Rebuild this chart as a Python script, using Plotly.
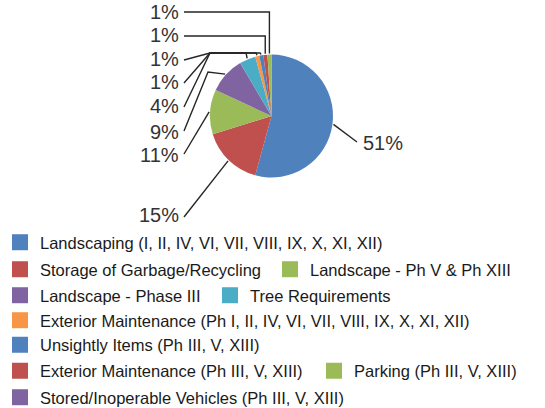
import math
import plotly.graph_objects as go

# ---------------- data ----------------
categories = [
    "Landscaping (I, II, IV, VI, VII, VIII, IX, X, XI, XII)",
    "Storage of Garbage/Recycling",
    "Landscape - Ph V & Ph XIII",
    "Landscape - Phase III",
    "Tree Requirements",
    "Exterior Maintenance (Ph I, II, IV, VI, VII, VIII, IX, X, XI, XII)",
    "Unsightly Items (Ph III, V, XIII)",
    "Exterior Maintenance (Ph III, V, XIII)",
    "Parking (Ph III, V, XIII)",
    "Stored/Inoperable Vehicles (Ph III, V, XIII)",
]
values = [51, 15, 11, 9, 4, 1, 1, 1, 1, 0]
labels_pct = [f"{v}%" for v in values]

# ---------------- styles / layout ----------------
colors = ["#4F81BD", "#C0504D", "#9BBB59", "#8064A2", "#4BACC6",
          "#F79646", "#4F81BD", "#C0504D", "#9BBB59", "#8064A2"]
W, H = 545, 408
CX, CY, R = 271.5, 116.0, 61.5
FONT = "Liberation Sans, Arial, sans-serif"

def px(x):
    return x / W

def py(y):
    return 1 - y / H

fig = go.Figure()
fig.add_trace(go.Pie(
    labels=categories, values=values, sort=False, direction="clockwise",
    rotation=0, marker=dict(colors=colors, line=dict(width=0)),
    textinfo="none", showlegend=False, hoverinfo="label+percent",
    domain=dict(x=[px(CX - R), px(CX + R)], y=[py(CY + R), py(CY - R)]),
))

# label placement (pixels): text anchor, line start, elbows
label_pos = {
    0: dict(x=361, y=142.5, side="left", start=(357, 142), elbows=[]),
    1: dict(x=181, y=215, side="right", start=(184, 217), elbows=[]),
    2: dict(x=181, y=155, side="right", start=(184, 154), elbows=[]),
    3: dict(x=181, y=132.5, side="right", start=(184, 131), elbows=[(208, 72)]),
    4: dict(x=181, y=106, side="right", start=(184, 107), elbows=[(210, 53), "h"]),
    5: dict(x=181, y=82, side="right", start=(184, 83), elbows=[(210, 53), "h"]),
    6: dict(x=181, y=59, side="right", start=(184, 60), elbows=[(210, 53), "h"]),
    7: dict(x=181, y=35, side="right", start=(184, 36), elbows=["v"]),
    8: dict(x=181, y=11.5, side="right", start=(184, 12), elbows=["v"]),
}

total = sum(values)
cum = 0.0
shapes = []
annotations = []
for i, v in enumerate(values):
    a0 = cum / total * 360
    cum += v
    a1 = cum / total * 360
    if i not in label_pos:
        continue
    mid = math.radians((a0 + a1) / 2)
    ax = CX + (R + 1) * math.sin(mid)
    ay = CY - (R + 1) * math.cos(mid)
    lp = label_pos[i]
    pts = [lp["start"]]
    for e in lp["elbows"]:
        if e == "v":
            pts.append((ax, pts[-1][1]))
        elif e == "h":
            pts.append((ax - 1, pts[-1][1]))
        else:
            pts.append(e)
    pts.append((ax, ay))
    path = "M " + " L ".join(f"{px(x):.5f},{py(y):.5f}" for x, y in pts)
    shapes.append(dict(type="path", xref="paper", yref="paper", path=path,
                       line=dict(color="#262626", width=1.4)))
    annotations.append(dict(
        x=px(lp["x"]), y=py(lp["y"]), xref="paper", yref="paper",
        text=labels_pct[i], showarrow=False,
        xanchor="left" if lp["side"] == "left" else "right", yanchor="middle",
        font=dict(family=FONT, size=20, color="#333333")))

# legend entries: one small legend per entry, placed like the original
legend_x = [0, 0, 270, 0, 210, 0, 0, 0, 314, 0]
legend_y = [242.5, 269.5, 269.5, 295.5, 295.5, 320.5, 345, 371, 371, 397.5]
layout_legends = {}
for idx, name in enumerate(categories):
    key = "legend" if idx == 0 else f"legend{idx + 1}"
    layout_legends[key] = dict(
        orientation="h", x=px(legend_x[idx]), xanchor="left",
        y=py(legend_y[idx]), yanchor="middle",
        bgcolor="rgba(0,0,0,0)", borderwidth=0, itemclick=False,
        font=dict(family=FONT, size=16.5, color="#1a1a1a"))
    fig.add_trace(go.Scatter(
        x=[None], y=[None], mode="markers", name=name,
        marker=dict(symbol="square", size=20, color=colors[idx]),
        legend=key, showlegend=True, hoverinfo="skip"))

fig.update_layout(
    width=W, height=H,
    margin=dict(l=0, r=0, t=0, b=0, autoexpand=False),
    paper_bgcolor="white", plot_bgcolor="white",
    xaxis=dict(visible=False), yaxis=dict(visible=False),
    shapes=shapes, annotations=annotations, **layout_legends,
)
fig.write_html("out.html", config={"displayModeBar": False},
               post_script="document.body.style.margin='0px';")
